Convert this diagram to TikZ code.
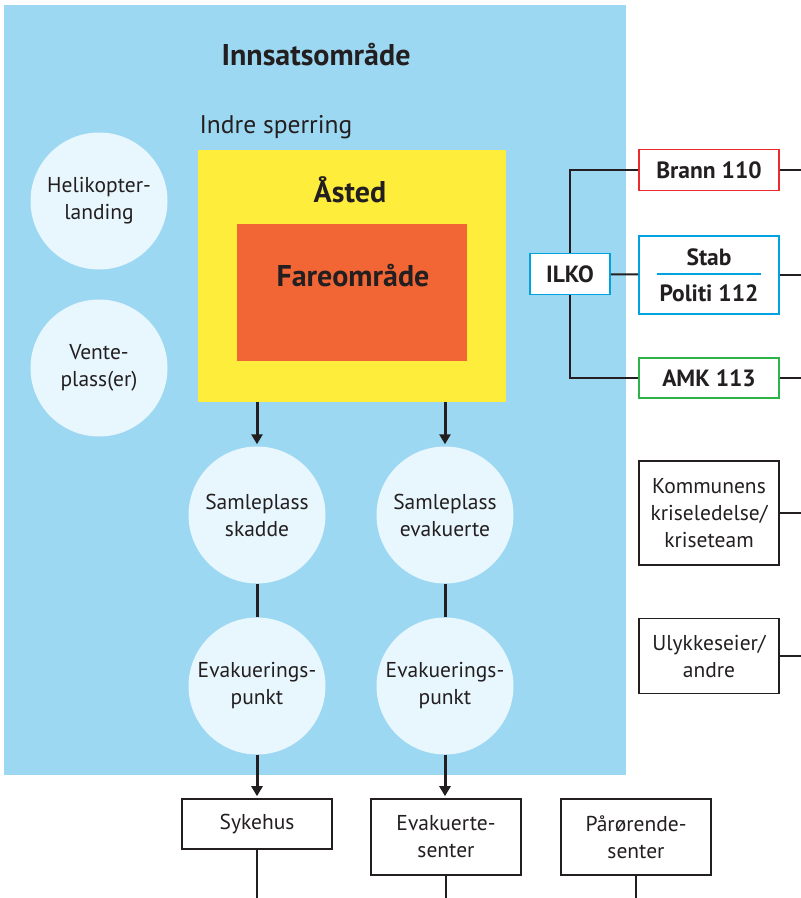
\documentclass[tikz,border=0pt]{standalone}
\usepackage{fontspec}
\setmainfont{PT Sans}
\usetikzlibrary{arrows.meta,positioning}
\definecolor{ink}{HTML}{231F20}
\definecolor{zonebg}{HTML}{9DD8F3}
\definecolor{spotbg}{HTML}{E8F6FD}
\definecolor{scenebg}{HTML}{FFED3B}
\definecolor{dangerbg}{HTML}{F26636}
\definecolor{firered}{HTML}{ED2A2E}
\definecolor{policeblue}{HTML}{00A3E0}
\definecolor{medgreen}{HTML}{2DB34A}
\tikzset{
  spot/.style={circle,fill=spotbg,minimum size=137pt,inner sep=0pt,
               align=center,text=ink,font=\fontsize{21.5}{27}\selectfont},
  unitbox/.style={draw=ink,fill=white,line width=1.6pt,minimum width=140pt,
                  inner sep=0pt,align=center,text=ink,font=\fontsize{21.5}{27}\selectfont},
  callbox/.style={unitbox,font=\fontsize{23.5}{27}\selectfont\bfseries,minimum height=41pt},
  headline/.style={text=ink,font=\fontsize{30}{34}\selectfont\bfseries},
  link/.style={draw=ink,line width=2pt},
  flowarr/.style={draw=ink,line width=3pt,-{Triangle[length=10pt,width=11pt]},shorten >=2pt}
}

\begin{document}
\begin{tikzpicture}[x=1pt,y=-1pt]
  \useasboundingbox (0,0) rectangle (801,898);
  \coordinate (rim) at (801,0);
  \coordinate (floor) at (0,898);

  % innsatsomraade
  \node[fill=zonebg,minimum width=622pt,minimum height=770pt,inner sep=0pt] (zone) at (315,390) {};
  \node[headline] (title) at (316,55) {Innsatsområde};
  \node[text=ink,font=\fontsize{25.5}{30}\selectfont,anchor=west] (sperring) at (196,127) {Indre sperring};

  \node[fill=scenebg,minimum width=308pt,minimum height=252pt,inner sep=0pt] (scene) at (352,276) {};
  \node[headline] (asted) at (350,190) {Åsted};
  \node[fill=dangerbg,minimum width=230pt,minimum height=137pt,inner sep=0pt] (fare) at (352,292.5) {};
  \node[headline] (farelbl) at (353,276) {Fareområde};

  \node[spot] (heli) at (99,201) {Helikopter-\\landing};
  \node[spot] (vente) at (99,368) {Vente-\\plass(er)};
  \node[spot] (skadde) at (257,515) {Samleplass\\skadde};
  \node[spot] (evak) at (445,515) {Samleplass\\evakuerte};
  \node[spot] (punktA) at (257,686) {Evakuerings-\\punkt};
  \node[spot] (punktB) at (445,686) {Evakuerings-\\punkt};

  % nødetater
  \node[callbox,draw=policeblue,minimum width=80pt] (ilko) at (570,274) {ILKO};
  \node[callbox,draw=firered] (brann) at (709,170) {Brann 110};
  \node[callbox,draw=policeblue,minimum height=78pt,
        font=\fontsize{23.5}{36}\selectfont\bfseries] (stab) at (709,275) {Stab\\Politi 112};
  \draw[policeblue,line width=1.5pt] (stab.center) ++(-52,-1) -- ++(104,0);
  \node[callbox,draw=medgreen,minimum height=40pt] (amk) at (709,378) {AMK 113};
  \node[unitbox,minimum height=104pt] (krise) at (709,513) {Kommunens\\kriseledelse/\\kriseteam};
  \node[unitbox,minimum height=75pt] (eier) at (709,656) {Ulykkeseier/\\andre};

  \node[unitbox,minimum width=150pt,minimum height=50pt] (sykehus) at (257,824) {Sykehus};
  \node[unitbox,minimum width=150pt,minimum height=76pt] (evsenter) at (446,837) {Evakuerte-\\senter};
  \node[unitbox,minimum width=150pt,minimum height=76pt] (prsenter) at (636,837) {Pårørende-\\senter};

  \draw[link] (ilko.north) |- (brann.west);
  \draw[link] (ilko.south) |- (amk.west);
  \draw[link] (ilko) -- (stab);
  \foreach \n in {brann,stab,amk,krise,eier}
    \draw[link] (\n.east) -- (\n.east -| rim);

  \draw[flowarr] (skadde |- scene.south) -- (skadde);
  \draw[flowarr] (evak |- scene.south) -- (evak);
  \draw[link,line width=3pt] (skadde) -- (punktA);
  \draw[link,line width=3pt] (evak) -- (punktB);
  \draw[flowarr] (punktA) -- (sykehus);
  \draw[flowarr] (punktB) -- (punktB |- evsenter.north);
  \foreach \n in {sykehus,evsenter,prsenter}
    \draw[link] (\n.south) -- (\n.south |- floor);
\end{tikzpicture}
\end{document}
